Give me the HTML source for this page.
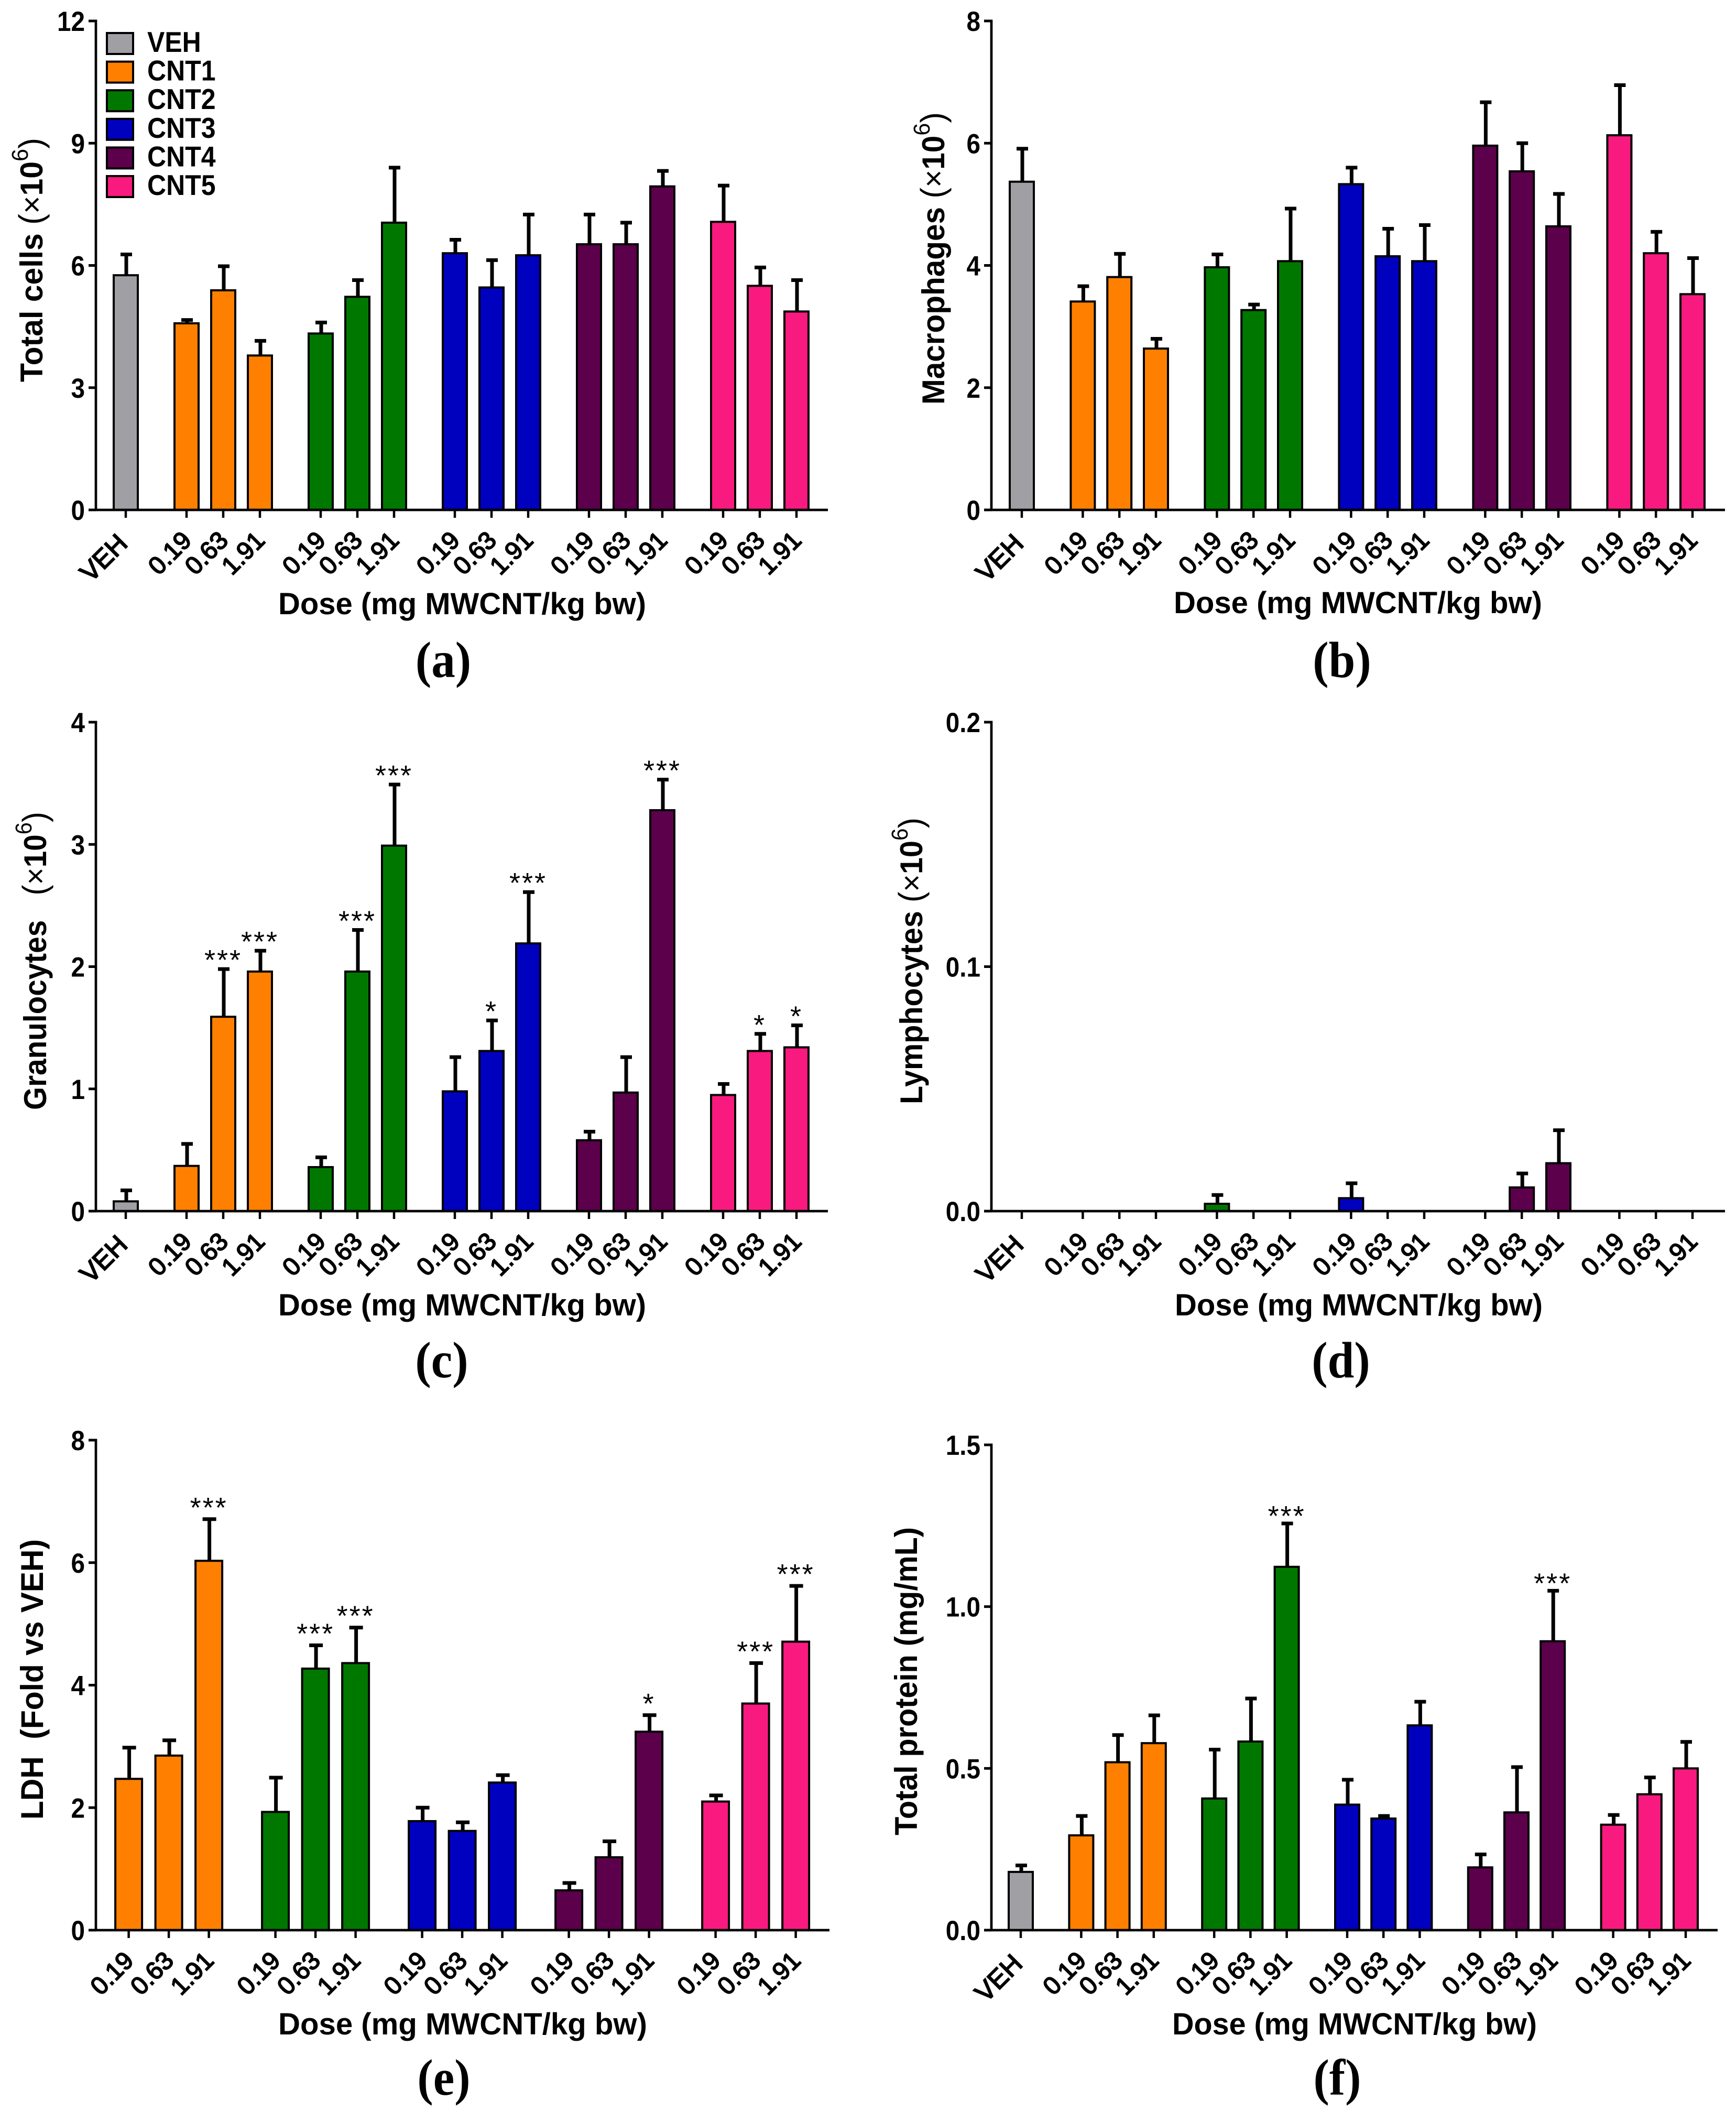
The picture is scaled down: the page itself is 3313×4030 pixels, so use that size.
<!DOCTYPE html>
<html lang="en">
<head>
<meta charset="utf-8">
<title>MWCNT dose response bar charts</title>
<style>
html,body{margin:0;padding:0;background:#fff;}
svg{display:block;font-family:"Liberation Sans",sans-serif;}
</style>
</head>
<body>
<svg id="figure" xmlns="http://www.w3.org/2000/svg" width="3313" height="4030" viewBox="0 0 3313 4030">
<rect x="0" y="0" width="3313" height="4030" fill="#ffffff"/>
</svg>
<script>
// Categories shared by the charts
const groupsWithVeh = ['VEH','CNT1','CNT1','CNT1','CNT2','CNT2','CNT2','CNT3','CNT3','CNT3','CNT4','CNT4','CNT4','CNT5','CNT5','CNT5'];
const dosesWithVeh = ['VEH','0.19','0.63','1.91','0.19','0.63','1.91','0.19','0.63','1.91','0.19','0.63','1.91','0.19','0.63','1.91'];
const groupsNoVeh = ['CNT1','CNT1','CNT1','CNT2','CNT2','CNT2','CNT3','CNT3','CNT3','CNT4','CNT4','CNT4','CNT5','CNT5','CNT5'];
const dosesNoVeh = ['0.19','0.63','1.91','0.19','0.63','1.91','0.19','0.63','1.91','0.19','0.63','1.91','0.19','0.63','1.91'];
const legendNames = ['VEH','CNT1','CNT2','CNT3','CNT4','CNT5'];
const legendColors = ['#a09fa4','#ff8000','#007800','#0000bf','#5c004c','#f91a80'];

// (a) Total cells
const totalCellsMeans = [5.76,4.58,5.39,3.79,4.33,5.23,7.05,6.30,5.46,6.25,6.52,6.52,7.94,7.07,5.50,4.87];
const totalCellsUpper = [6.27,4.66,5.98,4.15,4.60,5.64,8.40,6.63,6.13,7.25,7.25,7.05,8.32,7.96,5.95,5.64];
const totalCellsStars = ['','','','','','','','','','','','','','','',''];
const totalCellsTicks = [0,3,6,9,12];
const totalCellsTickLabels = ['0','3','6','9','12'];

// (b) Macrophages
const macrophageMeans = [5.37,3.41,3.81,2.64,3.97,3.27,4.07,5.33,4.15,4.07,5.96,5.54,4.64,6.13,4.20,3.53];
const macrophageUpper = [5.91,3.66,4.19,2.80,4.18,3.36,4.93,5.60,4.60,4.66,6.67,6.00,5.17,6.95,4.55,4.12];
const macrophageStars = ['','','','','','','','','','','','','','','',''];
const macrophageTicks = [0,2,4,6,8];
const macrophageTickLabels = ['0','2','4','6','8'];

// (c) Granulocytes
const granulocyteMeans = [0.08,0.37,1.59,1.96,0.36,1.96,2.99,0.98,1.31,2.19,0.58,0.97,3.28,0.95,1.31,1.34];
const granulocyteUpper = [0.17,0.55,1.98,2.13,0.44,2.30,3.49,1.26,1.56,2.61,0.65,1.26,3.53,1.04,1.45,1.52];
const granulocyteStars = ['','','***','***','','***','***','','*','***','','','***','','*','*'];
const granulocyteTicks = [0,1,2,3,4];
const granulocyteTickLabels = ['0','1','2','3','4'];

// (d) Lymphocytes
const lymphocyteMeans = [0,0,0,0,0.003,0,0,0.0053,0,0,0,0.0097,0.0196,0,0,0];
const lymphocyteUpper = [0,0,0,0,0.0066,0,0,0.0114,0,0,0,0.0154,0.0331,0,0,0];
const lymphocyteStars = ['','','','','','','','','','','','','','','',''];
const lymphocyteTicks = [0,0.1,0.2];
const lymphocyteTickLabels = ['0.0','0.1','0.2'];

// (e) LDH
const ldhMeans = [2.47,2.85,6.03,1.93,4.27,4.36,1.78,1.62,2.41,0.65,1.19,3.24,2.10,3.70,4.71];
const ldhUpper = [2.98,3.10,6.71,2.49,4.65,4.94,2.00,1.76,2.53,0.77,1.45,3.51,2.20,4.36,5.62];
const ldhStars = ['','','***','','***','***','','','','','','*','','***','***'];
const ldhTicks = [0,2,4,6,8];
const ldhTickLabels = ['0','2','4','6','8'];

// (f) Total protein
const proteinMeans = [0.18,0.293,0.519,0.578,0.407,0.583,1.123,0.388,0.345,0.633,0.194,0.364,0.893,0.326,0.42,0.50];
const proteinUpper = [0.20,0.353,0.603,0.664,0.558,0.716,1.257,0.465,0.353,0.706,0.234,0.504,1.049,0.356,0.472,0.582];
const proteinStars = ['','','','','','','***','','','','','','***','','',''];
const proteinTicks = [0,0.5,1,1.5];
const proteinTickLabels = ['0.0','0.5','1.0','1.5'];

const NS = 'http://www.w3.org/2000/svg';
const figure = document.getElementById('figure');

function mk(parent, tag, attrs) {
  const el = document.createElementNS(NS, tag);
  for (const k in attrs) el.setAttribute(k, attrs[k]);
  parent.appendChild(el);
  return el;
}

function colorOf(group) {
  return legendColors[legendNames.indexOf(group)];
}

function drawPanel(p) {
  const g = mk(figure, 'g', {});
  
  

  const yOf = v => p.y0 - (v - 0) * (p.y0 - p.yTop) / p.yMax;
  const xs = [];
  p.groups.forEach((grp, i) => {
    if (i === 0) xs.push(p.x0);
    else xs.push(xs[i - 1] + (grp !== p.groups[i - 1] ? p.gap : p.step));
  });

  // error bars
  p.means.forEach((m, i) => {
    if (p.upper[i] <= 0) return;
    const x = xs[i] + 1;
    const stem = mk(g, 'line', {x1:x, x2:x, y1:yOf(m), y2:yOf(p.upper[i]), stroke:'#000', 'stroke-width':7});
    
    
    const cap = mk(g, 'line', {x1:x - p.cap / 2, x2:x + p.cap / 2, y1:yOf(p.upper[i]), y2:yOf(p.upper[i]), stroke:'#000', 'stroke-width':7});
    
    
  });

  // bars
  p.means.forEach((m, i) => {
    const w = p.barW - 4;
    const bar = mk(g, 'rect', {x:xs[i] - w / 2, y:yOf(m), width:w, height:Math.max(0, p.y0 - yOf(m)), fill:colorOf(p.groups[i]), stroke:'#000', 'stroke-width':4});
    
    
  });

  // significance stars
  p.stars.forEach((s, i) => {
    if (!s) return;
    const t = mk(g, 'text', {x:xs[i], y:yOf(p.upper[i]) + p.starShift, 'text-anchor':'middle', 'font-size':54, 'letter-spacing':3, fill:'#000'});
    t.textContent = s;
    
    
  });

  // axes
  const yAxis = mk(g, 'line', {x1:p.axisX, x2:p.axisX, y1:p.yTop - 2.5, y2:p.y0 + 2, stroke:'#000', 'stroke-width':4.7});
  
  
  const xAxis = mk(g, 'line', {x1:p.axisX - 14, x2:p.xEnd, y1:p.y0, y2:p.y0, stroke:'#000', 'stroke-width':4.7});
  
  

  // y ticks
  p.ticks.forEach((v, i) => {
    const y = yOf(v);
    const tick = mk(g, 'line', {x1:p.axisX - 14, x2:p.axisX, y1:y, y2:y, stroke:'#000', 'stroke-width':5});
    
    
    const lab = mk(g, 'text', {transform:'translate(' + (p.axisX - 21) + ',' + (y + 19) + ') scale(0.9,1)', 'text-anchor':'end', 'font-size':53, 'font-weight':'bold', fill:'#000'});
    lab.textContent = p.tickLabels[i];
    
    
  });

  // x ticks and labels
  p.doses.forEach((d, i) => {
    const x = xs[i];
    const tick = mk(g, 'line', {x1:x, x2:x, y1:p.y0, y2:p.y0 + 15, stroke:'#000', 'stroke-width':4.5});
    
    
    const veh = d === 'VEH';
    const lab = mk(g, 'text', {transform:'translate(' + (x + (veh ? 6 : 12)) + ',' + (p.y0 + (veh ? 67 : 61)) + ') rotate(-45)', 'text-anchor':'end', 'font-size':veh ? 50 : 47.5, fill:'#000', stroke:'#000', 'stroke-width':2});
    lab.textContent = d;
    
    
  });

  // x title
  const xt = mk(g, 'text', {x:p.xTitleX, y:p.xTitleY, 'font-size':58, 'font-weight':'bold', fill:'#000', textLength:p.xTitleW, lengthAdjust:'spacingAndGlyphs'});
  xt.textContent = 'Dose (mg MWCNT/kg bw)';
  
  

  // y title
  const yt = mk(g, 'text', {transform:'translate(' + p.yTitleX + ',' + p.yTitleStart + ') rotate(-90)', 'font-size':60, 'font-weight':'bold', fill:'#000', textLength:p.yTitleStart - p.yTitleEnd, lengthAdjust:'spacingAndGlyphs'});
  
  
  if (p.yTitleSup) {
    const a = mk(yt, 'tspan', {});
    a.textContent = p.yTitle + '\u00A0';
    const open = mk(yt, 'tspan', {'font-weight':'normal', 'font-size':64});
    open.textContent = '(';
    const b = mk(yt, 'tspan', {'font-weight':'normal'});
    b.textContent = '\u00D7';
    const c = mk(yt, 'tspan', {});
    c.textContent = '10';
    const d = mk(yt, 'tspan', {dy:-28, 'font-size':44, 'font-weight':'normal'});
    d.textContent = '6';
    const e = mk(yt, 'tspan', {dy:28, 'font-weight':'normal', 'font-size':64});
    e.textContent = ')';
  } else {
    yt.textContent = p.yTitle;
  }

  // panel letter
  const letter = mk(g, 'text', {transform:'translate(' + p.letterX + ',' + p.letterY + ') scale(0.93,1)', 'text-anchor':'middle', 'font-size':98, 'font-weight':'bold', 'font-family':'"Liberation Serif",serif', fill:'#000'});
  letter.textContent = '(' + p.id + ')';
  
  
}

drawPanel({id:'a', groups:groupsWithVeh, doses:dosesWithVeh, means:totalCellsMeans, upper:totalCellsUpper, stars:totalCellsStars, ticks:totalCellsTicks, tickLabels:totalCellsTickLabels,
  yMax:12, yTop:40, y0:973, axisX:183, xEnd:1580, x0:240, step:70, gap:116, barW:50, cap:22, starShift:1,
  xTitleX:531, xTitleY:1172, xTitleW:702, yTitle:'Total cells', yTitleSup:true, yTitleX:81, yTitleStart:729, yTitleEnd:263, letterX:846, letterY:1292});

drawPanel({id:'b', groups:groupsWithVeh, doses:dosesWithVeh, means:macrophageMeans, upper:macrophageUpper, stars:macrophageStars, ticks:macrophageTicks, tickLabels:macrophageTickLabels,
  yMax:8, yTop:40, y0:973, axisX:1892, xEnd:3292, x0:1950, step:69.8, gap:116.4, barW:50, cap:22, starShift:1,
  xTitleX:2240, xTitleY:1170, xTitleW:703, yTitle:'Macrophages', yTitleSup:true, yTitleX:1802, yTitleStart:772, yTitleEnd:214, letterX:2561, letterY:1292});

drawPanel({id:'c', groups:groupsWithVeh, doses:dosesWithVeh, means:granulocyteMeans, upper:granulocyteUpper, stars:granulocyteStars, ticks:granulocyteTicks, tickLabels:granulocyteTickLabels,
  yMax:4, yTop:1378, y0:2311, axisX:183, xEnd:1580, x0:240, step:70, gap:116, barW:50, cap:22, starShift:1,
  xTitleX:531, xTitleY:2510, xTitleW:702, yTitle:'Granulocytes\u00A0\u00A0', yTitleSup:true, yTitleX:88, yTitleStart:2118, yTitleEnd:1549, letterX:843, letterY:2628});

drawPanel({id:'d', groups:groupsWithVeh, doses:dosesWithVeh, means:lymphocyteMeans, upper:lymphocyteUpper, stars:lymphocyteStars, ticks:lymphocyteTicks, tickLabels:lymphocyteTickLabels,
  yMax:0.2, yTop:1378, y0:2311, axisX:1892, xEnd:3292, x0:1950, step:69.8, gap:116.4, barW:50, cap:22, starShift:1,
  xTitleX:2242, xTitleY:2510, xTitleW:702, yTitle:'Lymphocytes', yTitleSup:true, yTitleX:1760, yTitleStart:2107, yTitleEnd:1560, letterX:2559, letterY:2628});

drawPanel({id:'e', groups:groupsNoVeh, doses:dosesNoVeh, means:ldhMeans, upper:ldhUpper, stars:ldhStars, ticks:ldhTicks, tickLabels:ldhTickLabels,
  yMax:8, yTop:2748, y0:3683, axisX:183, xEnd:1583, x0:245.6, step:76.5, gap:127, barW:55, cap:26, starShift:-4,
  xTitleX:531, xTitleY:3882, xTitleW:704, yTitle:'LDH\u00A0\u00A0(Fold vs VEH)', yTitleSup:false, yTitleX:82, yTitleStart:3472, yTitleEnd:2937, letterX:847, letterY:3997});

drawPanel({id:'f', groups:groupsWithVeh, doses:dosesWithVeh, means:proteinMeans, upper:proteinUpper, stars:proteinStars, ticks:proteinTicks, tickLabels:proteinTickLabels,
  yMax:1.5, yTop:2757, y0:3683, axisX:1892, xEnd:3278, x0:1948, step:69.2, gap:115.4, barW:50, cap:22, starShift:4,
  xTitleX:2237, xTitleY:3882, xTitleW:696, yTitle:'Total protein (mg/mL)', yTitleSup:false, yTitleX:1750, yTitleStart:3502, yTitleEnd:2914, letterX:2552, letterY:3997});

// legend in panel (a)
const legend = mk(figure, 'g', {});


legendNames.forEach((name, i) => {
  const swatch = mk(legend, 'rect', {x:204, y:63 + i * 54.6, width:50, height:40, fill:legendColors[i], stroke:'#000', 'stroke-width':4});
  
  
  const label = mk(legend, 'text', {transform:'translate(281,' + (99 + i * 54.6) + ') scale(1,1.1)', 'font-size':50, 'font-weight':'bold', fill:'#000'});
  label.textContent = name;
  
  
});
</script>
</body>
</html>
